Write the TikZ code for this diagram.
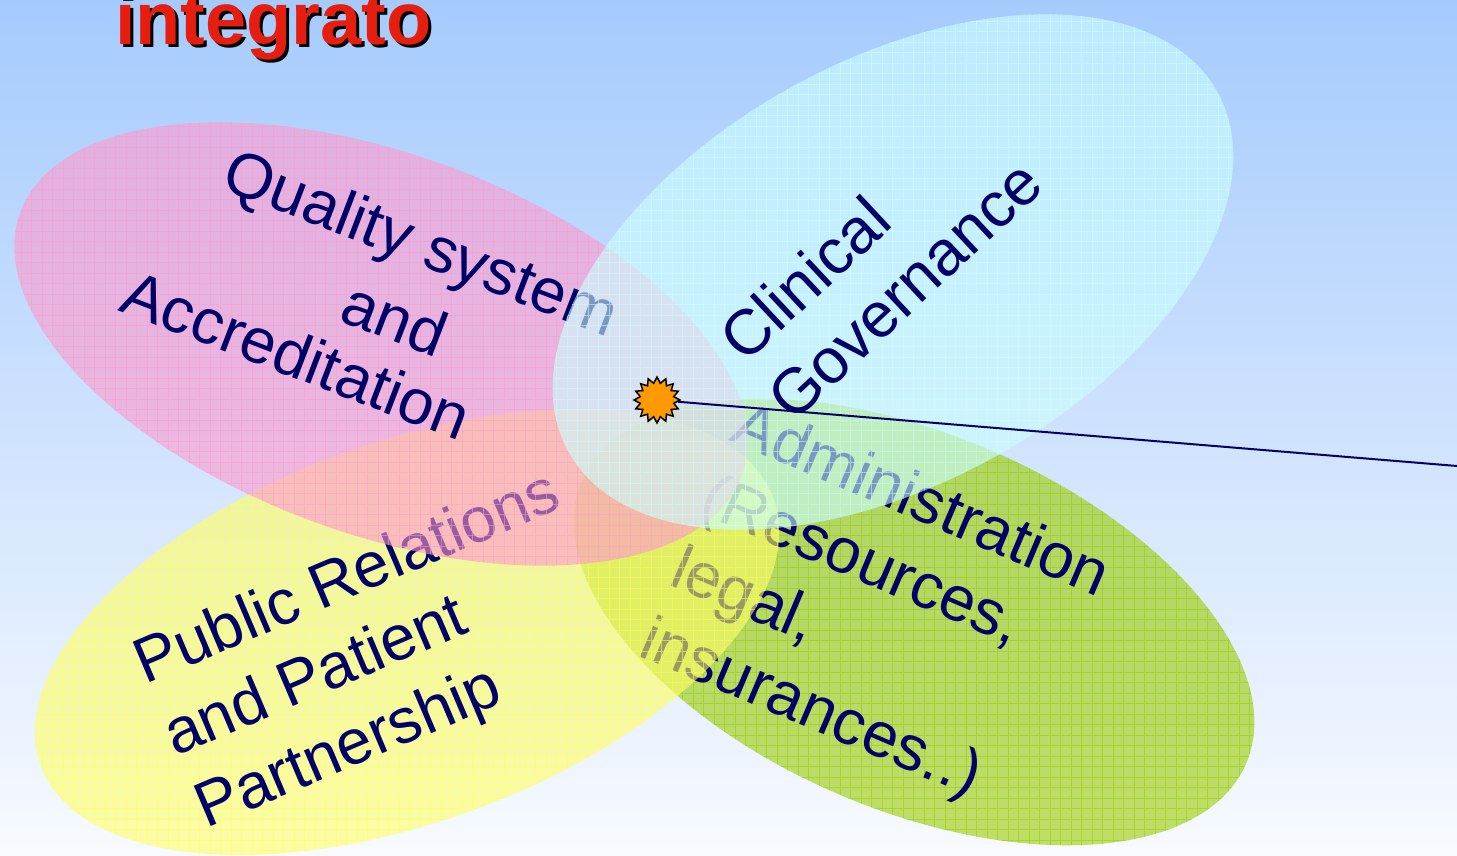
\documentclass[tikz,border=0pt]{standalone}
\usepackage{fontspec}
\setmainfont{Liberation Sans}
\usetikzlibrary{shapes.geometric}

\definecolor{bgtop}{RGB}{165,203,253}
\definecolor{bgbot}{RGB}{248,250,255}
\definecolor{navy}{RGB}{0,0,102}
\definecolor{petalpink}{RGB}{255,154,205}
\definecolor{petalcyan}{RGB}{204,255,255}
\definecolor{petalyellow}{RGB}{255,255,102}
\definecolor{petalgreen}{RGB}{153,204,0}
\definecolor{titlered}{RGB}{230,30,15}
\definecolor{burst}{RGB}{255,153,0}

\tikzset{
  petaltext/.style={font=\fontsize{63.5}{76}\selectfont, text=navy, anchor=base west, inner sep=0pt},
  titletext/.style={font=\bfseries\fontsize{74}{82}\selectfont, anchor=base west, inner sep=0pt},
}

% translucent, finely gridded ellipse: colour, cx, cy, angle, x radius, y radius
\newcommand\petal[6]{%
  \begin{scope}
    \clip[rotate around={#4:(#2,#3)}] (#2,#3) ellipse [x radius=#5, y radius=#6];
    \fill[#1, opacity=0.6] (#2-#5-12,#3-#5-12) rectangle (#2+#5+12,#3+#5+12);
    \draw[#1, opacity=0.55, line width=0.9pt, step=10.5]
      (#2-#5-12,#3-#5-12) grid (#2+#5+12,#3+#5+12);
  \end{scope}}

\begin{document}
\begin{tikzpicture}[x=1pt, y=1pt]
  \useasboundingbox (0,0) rectangle (1457,-855);
  \shade[top color=bgtop, bottom color=bgbot] (0,0) rectangle (1457,-855);

  % Administration
  \petal{petalgreen}{914}{-622}{-23}{361}{188}
  \node[petaltext, rotate=-23] (adm1) at (728,-440) {Administration};
  \node[petaltext, rotate=-23] (adm2) at (697,-512) {(Resources,};
  \node[petaltext, rotate=-23] (adm3) at (667,-584) {legal,};
  \node[petaltext, rotate=-23] (adm4) at (636,-655) {insurances..)};

  % Public relations
  \petal{petalyellow}{407}{-632}{20}{390}{190}
  \node[petaltext, rotate=23] (pub1) at (145,-685) {Public Relations};
  \node[petaltext, rotate=23] (pub2) at (175,-757) {and Patient};
  \node[petaltext, rotate=23] (pub3) at (206,-829) {Partnership};

  % Quality system
  \petal{petalpink}{381}{-344}{-20}{384}{190}
  \node[petaltext, rotate=-21] (qual1) at (219,-188) {Quality system};
  \node[petaltext, rotate=-21] (qual2) at (337,-320) {and};
  \node[petaltext, rotate=-21] (qual3) at (117,-310) {Accreditation};

  % Clinical governance
  \petal{petalcyan}{893}{-272}{29}{371}{211}
  \node[petaltext, rotate=43] (clin1) at (745,-365) {Clinical};
  \node[petaltext, rotate=43] (clin2) at (793,-424) {Governance};

  % centre marker and pointer
  \node[star, star points=16, star point ratio=1.35, minimum size=46pt,
        fill=burst, draw=black, line width=1.5pt, inner sep=0pt] (hub) at (657,-400) {};
  \coordinate (rim) at (1457,-466);
  \draw[navy, line width=2pt] (hub) -- (rim);

  % title
  \node[titletext, text=black] (titleshadow) at (118,-47) {integrato};
  \node[titletext, text=titlered] (title) at (115,-44) {integrato};
\end{tikzpicture}
\end{document}
